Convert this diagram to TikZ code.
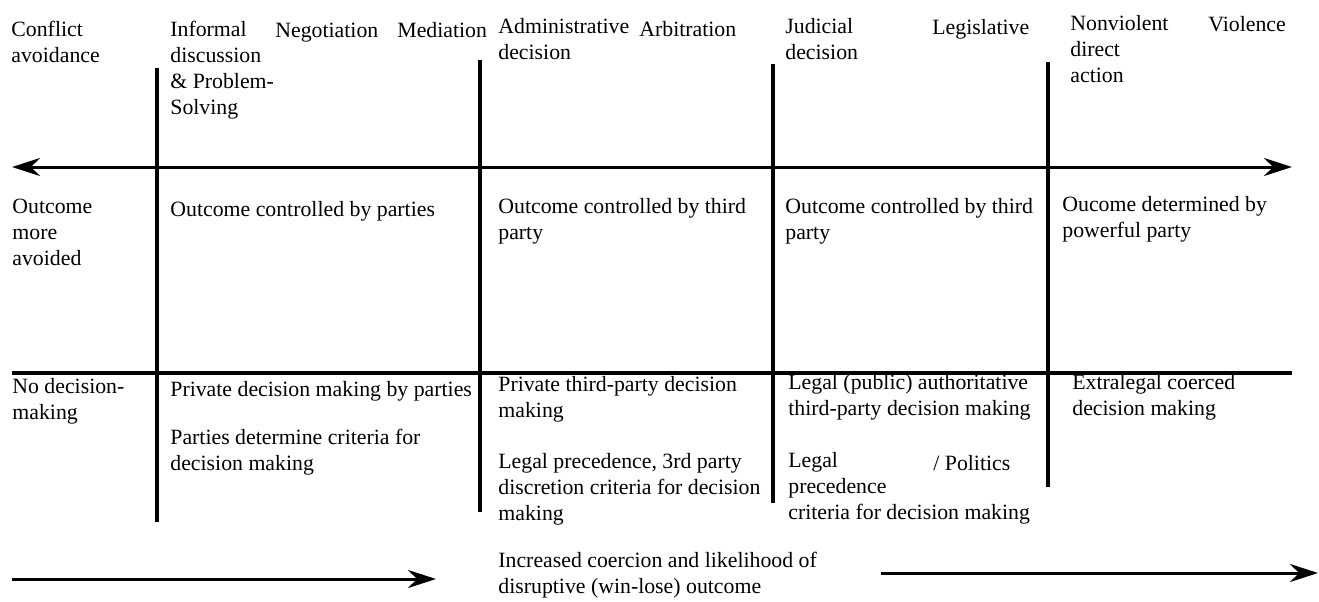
\documentclass[tikz,border=0pt]{standalone}
\usepackage{fontspec}
\setmainfont{Liberation Serif}
\usepackage{tikz}
\usetikzlibrary{calc,arrows.meta}
\newcommand{\cellfont}{\fontsize{10.9}{13}\selectfont}
\tikzset{txt/.style={anchor=north west,yshift=7.1pt,inner sep=0pt,align=left,font=\cellfont,
                     execute at begin node=\strut},
         rule/.style={line width=1.6pt},
         arr/.style={line width=1.5pt,-{Stealth[length=14pt,width=9pt]}}}

\begin{document}
\begin{tikzpicture}[x=0.5pt,y=-0.5pt]
              \useasboundingbox(0,0)rectangle(1319,601);
              % header row
              \node[txt](avoid)at(11,35){Conflict\\avoidance};
              \node[txt](informal)at(170,35){Informal\\discussion\\\& Problem-\\Solving};
              \node[txt](nego)at(275,33){Negotiation};
              \node[txt](medi)at(397,33){Mediation};
              \node[txt](admin)at(498,32){Administrative\\decision};
              \node[txt](arbi)at(639,32){Arbitration};
              \node[txt](judi)at(785,32){Judicial\\decision};
              \node[txt](legis)at(932,30){Legislative};
              \node[txt](nonv)at(1070,29){Nonviolent\\direct\\action};
              \node[txt](viol)at(1208,27){Violence};
              % axes
              \coordinate(axL)at(12,167);\coordinate(axR)at(1292,167);
              \coordinate(hL)at(12,373);\coordinate(hR)at(1292,373);
              \draw[arr,{Stealth[length=14pt,width=9pt]}-{Stealth[length=14pt,width=9pt]}](axL)--(axR);
              \draw[rule](hL)--(hR);
              \draw[rule](157,68)--(157,522);
              \draw[rule](480,60)--(480,512);
              \draw[rule](773,64)--(773,503);
              \draw[rule](1048,62)--(1048,487);
              % outcome row
              \node[txt](moreav)at(12,213){Outcome\\more\\avoided};
              \node[txt](byparties)at(170,212){Outcome controlled by parties};
              \node[txt](bythirdA)at(498,212){Outcome controlled by third\\party};
              \node[txt](bythirdB)at(785,212){Outcome controlled by third\\party};
              \node[txt](powerful)at(1062,210){Oucome determined by\\powerful party};
              % decision row
              \node[txt](nodec)at(12,392){No decision-\\making};
              \node[txt](privparties)at(170,392){Private decision making by parties};
              \node[txt](critparties)at(170,443){Parties determine criteria for\\decision making};
              \node[txt](privthird)at(498,390){Private third-party decision\\making};
              \node[txt](critthird)at(498,467){Legal precedence, 3rd party\\discretion criteria for decision\\making};
              \node[txt](legalpub)at(788,388){Legal (public) authoritative\\third-party decision making};
              \node[txt](legalprec)at(788,466){Legal\\precedence\\criteria for decision making};
              \node[txt](politics)at(933,466){/ Politics};
              \node[txt](extra)at(1072,388){Extralegal coerced\\decision making};
              % bottom
              \node[txt](coerc)at(498,566){Increased coercion and likelihood of\\disruptive (win-lose) outcome};
              \coordinate(b1)at(12,579);\coordinate(b2)at(436,579);
              \coordinate(b3)at(881,573);\coordinate(b4)at(1318,573);
              \draw[arr](b1)--(b2);
              \draw[arr](b3)--(b4);
            \end{tikzpicture}
\end{document}
